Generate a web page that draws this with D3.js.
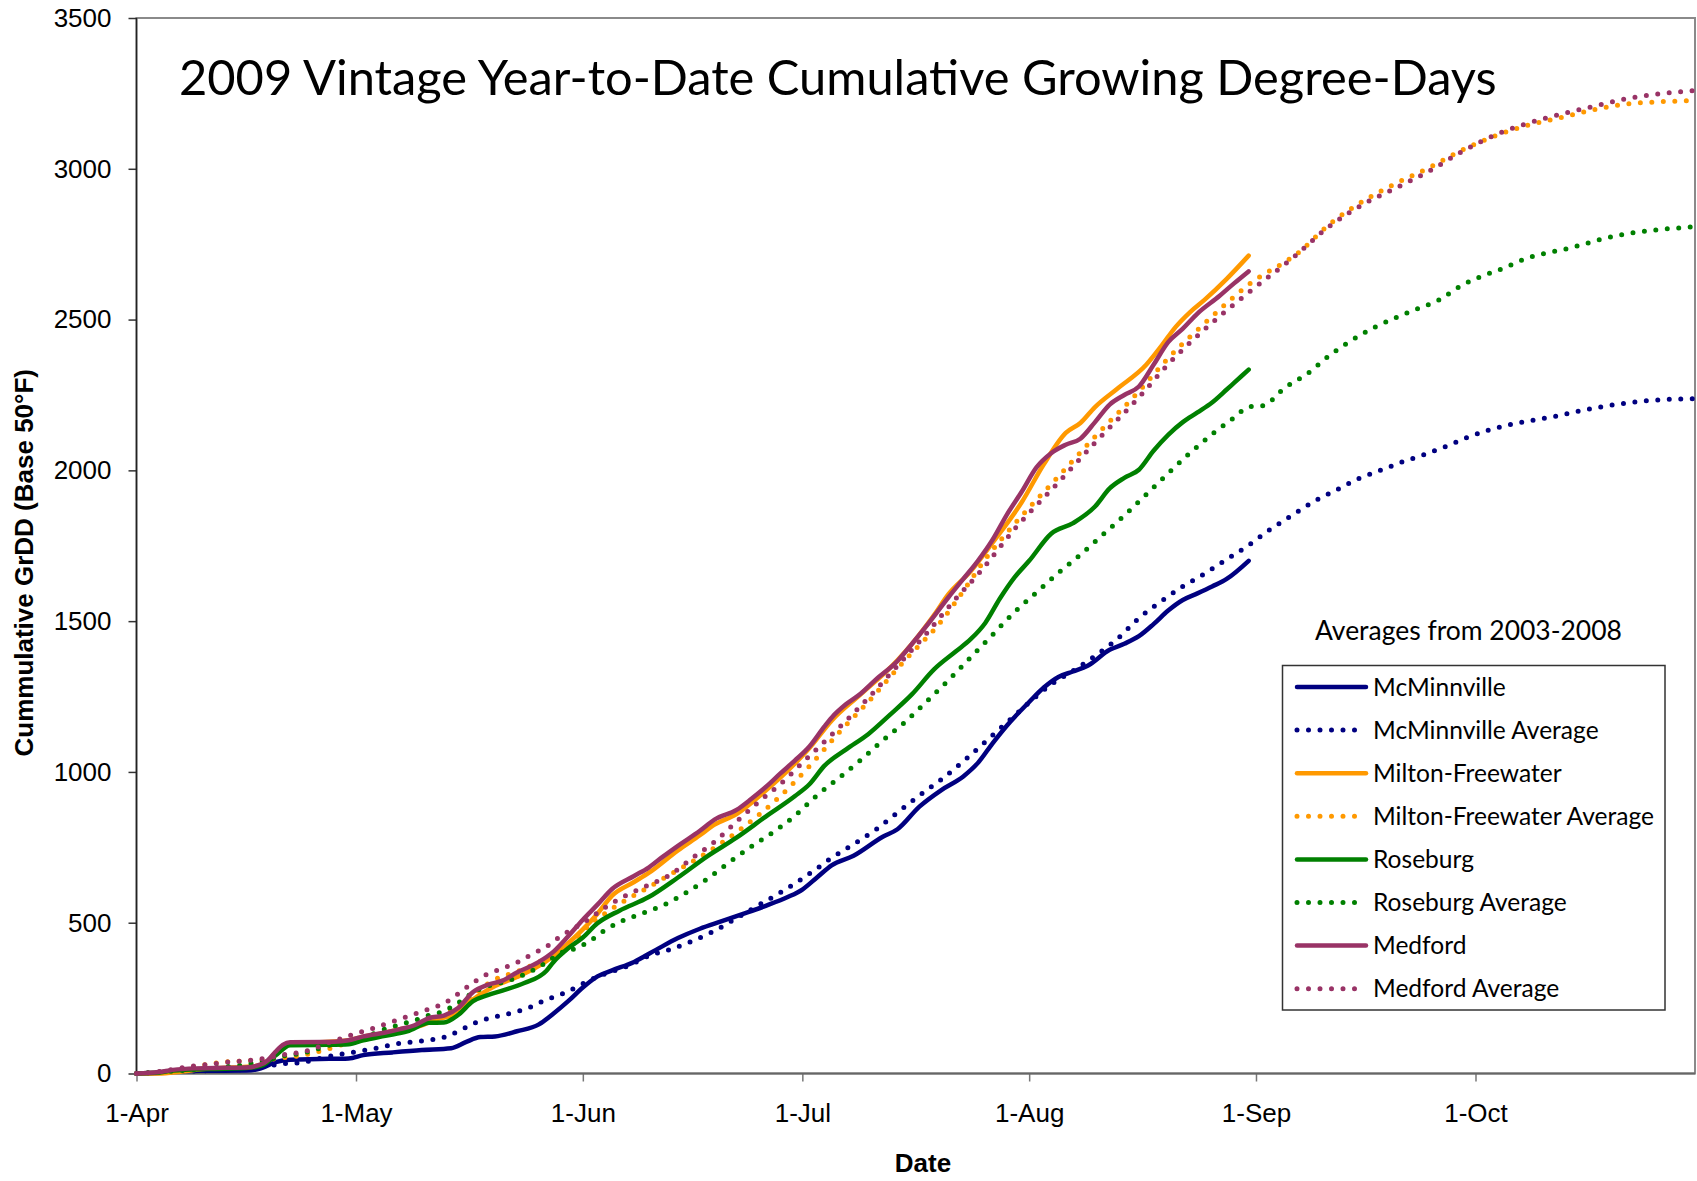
<!DOCTYPE html>
<html>
<head>
<meta charset="utf-8">
<script src="https://cdn.jsdelivr.net/npm/d3@7"></script>
<style>
  body { margin: 0; background: #fff; }
  svg { display: block; }
</style>
</head>
<body>
<svg id="chart" width="1697" height="1181"></svg>
<script>

// cumulative growing degree-days, [month-day, GrDD]  (2009 season)
let mcminnville = [
    ["04-01",0],["04-04",2],["04-07",8],["04-11",9],["04-16",10],["04-18",17],["04-20",38],["04-22",46],
    ["04-26",48],["04-30",50],["05-02",61],["05-06",70],["05-10",78],["05-14",84],["05-16",104],["05-18",121],
    ["05-20",123],["05-23",140],["05-26",163],["05-28",199],["05-30",240],["06-01",285],["06-03",322],["06-05",342],
    ["06-08",370],["06-11",410],["06-14",449],["06-17",480],["06-20",505],["06-23",530],["06-26",556],["06-29",585],
    ["07-01",610],["07-03",650],["07-05",690],["07-08",722],["07-12",785],["07-14",810],["07-17",885],["07-20",940],
    ["07-23",985],["07-25",1030],["07-27",1095],["07-29",1155],["08-01",1232],["08-03",1280],["08-05",1315],["08-07",1333],
    ["08-09",1352],["08-12",1405],["08-14",1425],["08-16",1450],["08-18",1490],["08-20",1535],["08-22",1570],["08-24",1592],
    ["08-26",1615],["08-28",1640],["08-31",1700]
];

// 2003-2008 averages run on to the end of October
let mcminnvilleAvg = [
    ["04-01",0],["04-06",5],["04-11",10],["04-16",14],["04-19",25],["04-21",32],["04-24",38],["04-26",50],
    ["04-28",60],["05-01",72],["05-04",85],["05-07",100],["05-10",108],["05-13",120],["05-15",140],["05-17",165],
    ["05-19",182],["05-21",194],["05-23",205],["05-25",222],["05-27",245],["05-29",262],["05-31",285],["06-02",310],
    ["06-04",330],["06-07",355],["06-10",390],["06-13",412],["06-16",440],["06-19",473],["06-22",515],["06-25",558],
    ["06-28",600],["06-30",630],["07-03",680],["07-05",715],["07-08",760],["07-11",808],["07-14",865],["07-17",922],
    ["07-20",975],["07-23",1035],["07-26",1100],["07-29",1165],["08-01",1230],["08-04",1290],["08-07",1335],["08-10",1385],
    ["08-13",1440],["08-16",1510],["08-19",1565],["08-22",1615],["08-25",1658],["08-28",1705],["08-31",1752],["09-03",1805],
    ["09-06",1852],["09-09",1898],["09-12",1935],["09-15",1972],["09-18",2000],["09-21",2028],["09-24",2052],["09-27",2080],
    ["09-30",2110],["10-03",2135],["10-06",2153],["10-09",2167],["10-12",2180],["10-15",2196],["10-18",2210],["10-21",2221],
    ["10-24",2230],["10-27",2235],["10-31",2238]
];

let miltonFreewater = [
    ["04-01",0],["04-04",0],["04-07",6],["04-10",15],["04-14",20],["04-17",24],["04-19",42],["04-20",70],
    ["04-22",100],["04-28",106],["04-30",110],["05-02",122],["05-05",135],["05-07",147],["05-10",160],["05-12",180],
    ["05-14",192],["05-16",228],["05-18",262],["05-20",290],["05-23",320],["05-26",357],["05-28",390],["05-30",432],
    ["06-01",478],["06-03",530],["06-05",590],["06-08",635],["06-10",665],["06-14",740],["06-17",790],["06-19",825],
    ["06-22",860],["06-26",938],["06-30",1028],["07-02",1080],["07-05",1170],["07-09",1258],["07-14",1370],["07-16",1425],
    ["07-19",1520],["07-21",1590],["07-24",1665],["07-27",1760],["07-31",1895],["08-03",2020],["08-06",2124],["08-08",2157],
    ["08-10",2210],["08-13",2270],["08-17",2350],["08-19",2410],["08-21",2475],["08-23",2525],["08-25",2566],["08-28",2635],
    ["08-31",2712]
];

let miltonFreewaterAvg = [
    ["04-01",0],["04-04",3],["04-07",15],["04-10",28],["04-13",38],["04-16",42],["04-19",46],["04-21",52],
    ["04-24",62],["04-27",80],["04-29",95],["05-01",108],["05-04",125],["05-07",145],["05-10",165],["05-13",195],
    ["05-16",240],["05-18",280],["05-20",312],["05-23",338],["05-26",370],["05-29",412],["05-31",445],["06-02",495],
    ["06-04",530],["06-06",562],["06-10",618],["06-14",675],["06-18",733],["06-23",818],["06-28",920],["07-02",1020],
    ["07-06",1130],["07-10",1232],["07-15",1370],["07-20",1500],["07-23",1600],["07-26",1705],["07-30",1822],["08-05",1980],
    ["08-10",2112],["08-16",2262],["08-20",2372],["08-25",2488],["08-31",2616],["09-07",2726],["09-11",2815],["09-16",2898],
    ["09-20",2950],["09-25",3008],["09-29",3060],["10-04",3112],["10-08",3143],["10-13",3172],["10-18",3200],["10-22",3216],
    ["10-26",3222],["10-31",3226]
];

let roseburg = [
    ["04-01",0],["04-04",3],["04-06",10],["04-11",15],["04-16",18],["04-18",25],["04-20",60],["04-22",94],
    ["04-27",95],["04-30",97],["05-02",110],["05-05",125],["05-08",140],["05-11",168],["05-13",169],["05-15",195],
    ["05-17",240],["05-19",260],["05-21",275],["05-24",300],["05-27",340],["05-28",370],["05-30",415],["06-01",451],
    ["06-03",498],["06-06",540],["06-10",585],["06-14",650],["06-18",720],["06-22",782],["06-26",852],["06-30",920],
    ["07-02",960],["07-04",1020],["07-07",1075],["07-10",1125],["07-13",1190],["07-16",1258],["07-19",1340],["07-22",1400],
    ["07-24",1440],["07-26",1494],["07-28",1575],["07-30",1645],["08-01",1700],["08-04",1790],["08-07",1825],["08-10",1880],
    ["08-12",1940],["08-14",1975],["08-16",2002],["08-18",2065],["08-20",2118],["08-22",2160],["08-24",2192],["08-26",2225],
    ["08-28",2268],["08-29",2290],["08-31",2334]
];

let roseburgAvg = [
    ["04-01",0],["04-06",8],["04-11",18],["04-16",30],["04-19",45],["04-21",58],["04-23",65],["04-25",75],
    ["04-27",92],["04-29",100],["05-01",112],["05-03",128],["05-05",148],["05-07",162],["05-09",176],["05-11",193],
    ["05-13",207],["05-15",235],["05-17",268],["05-19",290],["05-21",302],["05-23",318],["05-25",340],["05-27",368],
    ["05-29",400],["05-31",415],["06-02",440],["06-04",475],["06-06",502],["06-09",530],["06-12",558],["06-15",598],
    ["06-18",645],["06-21",700],["06-24",752],["06-27",800],["06-30",855],["07-03",922],["07-06",980],["07-09",1040],
    ["07-12",1105],["07-15",1165],["07-18",1234],["07-21",1305],["07-24",1380],["07-27",1455],["07-30",1530],["08-02",1595],
    ["08-05",1660],["08-08",1720],["08-11",1785],["08-14",1850],["08-17",1920],["08-20",1990],["08-23",2058],["08-26",2120],
    ["08-29",2175],["08-31",2210],["09-02",2215],["09-05",2275],["09-08",2320],["09-11",2380],["09-14",2430],["09-17",2472],
    ["09-20",2505],["09-23",2535],["09-26",2565],["09-29",2612],["10-02",2645],["10-05",2672],["10-08",2703],["10-11",2722],
    ["10-14",2738],["10-18",2765],["10-22",2786],["10-26",2798],["10-31",2808]
];

let medford = [
    ["04-01",0],["04-04",5],["04-06",12],["04-09",17],["04-13",19],["04-16",20],["04-18",30],["04-19",45],
    ["04-20",72],["04-21",95],["04-22",104],["04-28",105],["04-30",110],["05-02",123],["05-05",136],["05-07",147],
    ["05-09",160],["05-11",184],["05-13",192],["05-15",218],["05-17",270],["05-19",294],["05-21",308],["05-23",335],
    ["05-26",370],["05-28",404],["05-30",455],["06-01",510],["06-03",560],["06-05",612],["06-08",655],["06-10",683],
    ["06-12",720],["06-14",755],["06-17",805],["06-19",842],["06-22",874],["06-24",910],["06-26",950],["06-28",995],
    ["06-30",1038],["07-02",1085],["07-04",1150],["07-05",1180],["07-07",1225],["07-09",1260],["07-11",1305],["07-14",1368],
    ["07-16",1425],["07-18",1485],["07-21",1580],["07-23",1640],["07-25",1700],["07-27",1770],["07-29",1855],["07-31",1930],
    ["08-02",2010],["08-04",2057],["08-06",2085],["08-08",2105],["08-10",2160],["08-12",2218],["08-14",2250],["08-16",2278],
    ["08-18",2350],["08-20",2425],["08-22",2470],["08-24",2520],["08-27",2578],["08-29",2620],["08-31",2660]
];

let medfordAvg = [
    ["04-01",0],["04-03",3],["04-05",10],["04-08",22],["04-11",31],["04-14",39],["04-17",45],["04-19",52],
    ["04-21",62],["04-23",69],["04-25",80],["04-27",100],["04-29",116],["05-01",133],["05-03",147],["05-05",164],
    ["05-07",180],["05-09",197],["05-11",214],["05-13",232],["05-15",265],["05-17",301],["05-19",330],["05-21",348],
    ["05-23",368],["05-25",395],["05-27",420],["05-29",456],["05-31",485],["06-02",515],["06-04",550],["06-07",592],
    ["06-10",625],["06-13",660],["06-16",715],["06-19",768],["06-22",835],["06-25",900],["06-28",960],["07-01",1030],
    ["07-04",1100],["07-07",1170],["07-10",1245],["07-14",1352],["07-18",1460],["07-22",1575],["07-25",1655],["07-30",1805],
    ["08-05",1960],["08-10",2092],["08-16",2242],["08-20",2352],["08-25",2468],["08-31",2590],["09-06",2704],["09-11",2809],
    ["09-16",2887],["09-20",2935],["09-25",2997],["09-29",3055],["10-04",3115],["10-08",3150],["10-13",3183],["10-18",3212],
    ["10-22",3234],["10-26",3248],["10-31",3260]
];

let seriesNames = ['McMinnville', 'McMinnville Average', 'Milton-Freewater', 'Milton-Freewater Average',
    'Roseburg', 'Roseburg Average', 'Medford', 'Medford Average'];
let seriesValues = [mcminnville, mcminnvilleAvg, miltonFreewater, miltonFreewaterAvg,
    roseburg, roseburgAvg, medford, medfordAvg];
let seriesColors = ['#000080', '#000080', '#FF9900', '#FF9900', '#008000', '#008000', '#993366', '#993366'];

let yTicks = [0, 500, 1000, 1500, 2000, 2500, 3000, 3500];
let monthTicks = ['04-01', '05-01', '06-01', '07-01', '08-01', '09-01', '10-01'];
let xDomain = ['04-01', '10-31'];

let chartTitle = '2009 Vintage Year-to-Date Cumulative Growing Degree-Days';
let legendTitle = 'Averages from 2003-2008';

let Plot = {
    Left: 136.5,
    Right: 1695,
    Top: 18,
    Bottom: 1073.5
};

let parseDay = s => d3.timeParse('%Y-%m-%d')('2009-' + s);

let svg = d3.select('#chart');

let x = d3
    .scaleTime()
    .domain(xDomain.map(parseDay))
    .range([Plot.Left, Plot.Right]);

let y = d3
    .scaleLinear()
    .domain([0, 3500])
    .range([Plot.Bottom, Plot.Top]);

// plot area frame
svg.append('rect')
    .attr('x', Plot.Left)
    .attr('y', Plot.Top)
    .attr('width', Plot.Right - Plot.Left)
    .attr('height', Plot.Bottom - Plot.Top)
    .attr('fill', 'none')
    .attr('stroke', '#8a8a8a')
    .attr('stroke-width', 2);

let yAxis = svg.append('g')
    .attr('transform', `translate(${Plot.Left},0)`)
    .call(d3.axisLeft(y).tickValues(yTicks).tickSize(8).tickPadding(17).tickFormat(d3.format('d')));

let xAxis = svg.append('g')
    .attr('transform', `translate(0,${Plot.Bottom})`)
    .call(d3.axisBottom(x).tickValues(monthTicks.map(parseDay)).tickSize(8).tickPadding(22)
        .tickFormat(d3.timeFormat('%-d-%b')));

[yAxis, xAxis].forEach(g => {
    g.select('.domain').remove();
    g.selectAll('text')
        .attr('font-family', '"Liberation Sans", Arial, sans-serif')
        .attr('font-size', 26)
        .attr('fill', '#000');
});
yAxis.selectAll('line').attr('stroke', '#333').attr('stroke-width', 1.5);
xAxis.selectAll('line').attr('stroke', '#777').attr('stroke-width', 1.5);

svg.append('line')
    .attr('x1', Plot.Left).attr('x2', Plot.Left)
    .attr('y1', Plot.Top).attr('y2', Plot.Bottom)
    .attr('stroke', '#222')
    .attr('stroke-width', 1.5);
svg.append('line')
    .attr('x1', Plot.Left).attr('x2', Plot.Right)
    .attr('y1', Plot.Bottom).attr('y2', Plot.Bottom)
    .attr('stroke', '#666')
    .attr('stroke-width', 2);

// axis titles
svg.append('text')
    .attr('transform', `translate(33,${(Plot.Top + Plot.Bottom) / 2 + 17}) rotate(-90)`)
    .attr('text-anchor', 'middle')
    .attr('font-family', '"Liberation Sans", Arial, sans-serif')
    .attr('font-weight', 'bold')
    .attr('font-size', 26)
    .text('Cummulative GrDD (Base 50°F)');

svg.append('text')
    .attr('x', 923)
    .attr('y', 1172)
    .attr('text-anchor', 'middle')
    .attr('font-family', '"Liberation Sans", Arial, sans-serif')
    .attr('font-weight', 'bold')
    .attr('font-size', 26)
    .text('Date');

function fitWidth(sel, width) {
    let w = sel.node().getComputedTextLength();
    let fs = parseFloat(sel.attr('font-size'));
    sel.attr('font-size', (fs * width / w).toFixed(2));
}

let title = svg.append('text')
    .attr('x', 179)
    .attr('y', 95)
    .attr('font-family', 'Lato, "Open Sans", sans-serif')
    .attr('font-size', 46)
    .text(chartTitle);
fitWidth(title, 1318);

// series lines
let line = d3.line()
    .x(d => x(parseDay(d[0])))
    .y(d => y(d[1]))
    .curve(d3.curveMonotoneX);

let series = seriesNames.map((name, i) => ({
    name: name,
    values: seriesValues[i],
    color: seriesColors[i],
    dotted: name.endsWith('Average')
}));

function styleStroke(sel) {
    sel.attr('fill', 'none')
        .attr('stroke', d => d.color)
        .attr('stroke-width', d => d.dotted ? 5 : 4.5)
        .attr('stroke-linecap', 'round')
        .attr('stroke-linejoin', 'round')
        .attr('stroke-dasharray', d => d.dotted ? '0 11.5' : null);
}

svg.append('g')
    .selectAll('path')
    .data(series)
    .join('path')
    .attr('d', d => line(d.values))
    .call(styleStroke);

// legend
let Legend = {
    Left: 1282.5,
    Top: 665.5,
    Width: 382.5,
    Height: 344.5,
    Row0: 687,
    RowStep: 43.1
};

let legTitle = svg.append('text')
    .attr('x', 1315)
    .attr('y', 640)
    .attr('font-family', 'Lato, "Open Sans", sans-serif')
    .attr('font-size', 26)
    .text(legendTitle);
fitWidth(legTitle, 307);

svg.append('rect')
    .attr('x', Legend.Left)
    .attr('y', Legend.Top)
    .attr('width', Legend.Width)
    .attr('height', Legend.Height)
    .attr('fill', '#fff')
    .attr('stroke', '#333')
    .attr('stroke-width', 1.5);

let rows = svg.append('g')
    .selectAll('g')
    .data(series)
    .join('g')
    .attr('transform', (d, i) => `translate(0,${Legend.Row0 + i * Legend.RowStep})`);

rows.append('path')
    .attr('d', 'M1297,0H1366')
    .call(styleStroke);

let labels = rows.append('text')
    .attr('x', 1373)
    .attr('y', 8.5)
    .attr('font-family', 'Lato, "Open Sans", sans-serif')
    .attr('font-size', 24)
    .text(d => d.name);

// size all labels off the longest one
let longest = labels.filter(d => d.name === 'Milton-Freewater Average');
fitWidth(longest, 281);
labels.attr('font-size', longest.attr('font-size'));

</script>
</body>
</html>
